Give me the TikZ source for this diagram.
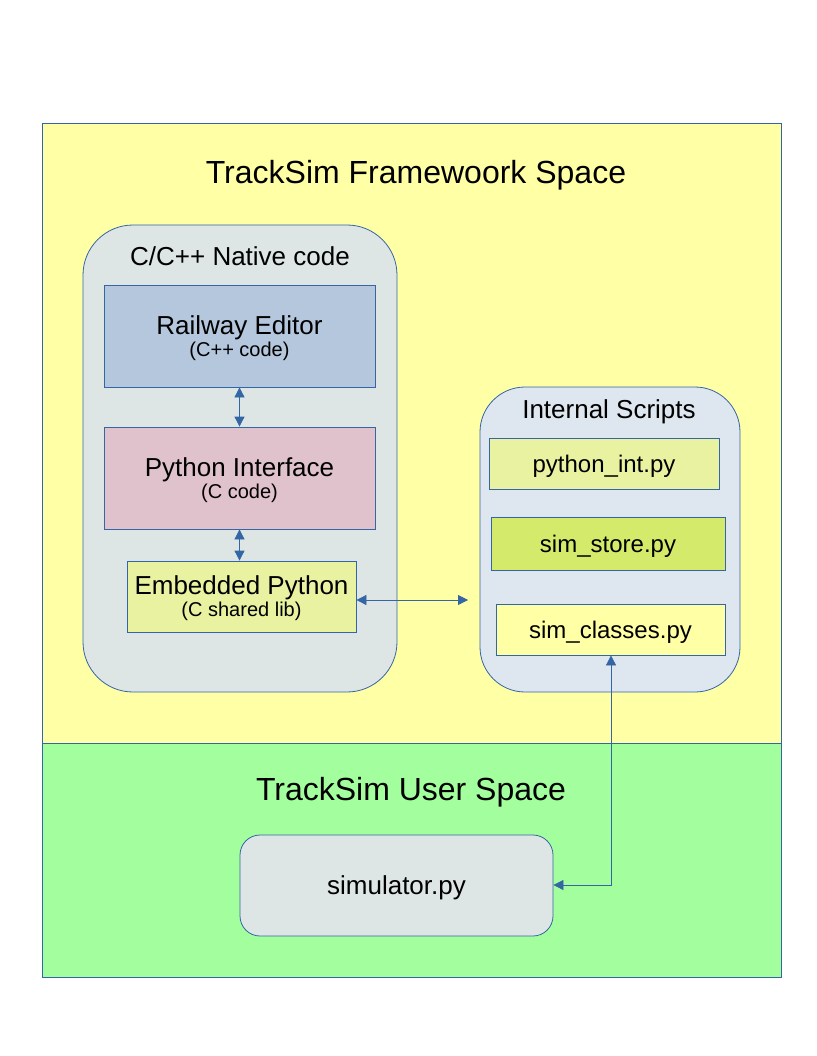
\documentclass[tikz,border=0pt]{standalone}
\usepackage{fontspec}
\setmainfont{Liberation Sans}
\usetikzlibrary{arrows.meta}
\definecolor{lineblue}{HTML}{3465A4}
\definecolor{fwyellow}{HTML}{FFFFA6}
\definecolor{usergreen}{HTML}{A3FF9E}
\definecolor{nativegray}{HTML}{DEE6E5}
\definecolor{scriptblue}{HTML}{DEE6EF}
\definecolor{railblue}{HTML}{B4C7DC}
\definecolor{ifpink}{HTML}{E0C2CD}
\definecolor{embyellow}{HTML}{E8F2A1}
\definecolor{storegreen}{HTML}{D4EA6B}
\newcommand{\bigtxt}{\fontsize{32}{36}\selectfont}
\newcommand{\midtxt}{\fontsize{26}{28}\selectfont}
\newcommand{\filetxt}{\fontsize{24}{26}\selectfont}
\newcommand{\smalltxt}{\fontsize{20}{22}\selectfont}
\tikzset{
  region/.style={draw=lineblue, line width=0.8pt, inner sep=0pt, anchor=center},
  block/.style={draw=lineblue, line width=0.8pt, inner sep=0pt, anchor=center, align=center, text=black},
  fileblock/.style={block, text depth=0pt},
  title/.style={inner sep=0pt, anchor=center, text=black},
  link/.style={draw=lineblue, line width=0.8pt, {Triangle[length=10pt,width=10pt,fill=lineblue]}-{Triangle[length=10pt,width=10pt,fill=lineblue]}},
}
\begin{document}
\begin{tikzpicture}[x=1pt,y=-1pt]
\useasboundingbox[fill=white] (0,0) rectangle (816,1056);
% spaces
\node[region, fill=fwyellow, minimum width=739pt, minimum height=620pt] (fw) at (411.5,433) {};
\node[region, fill=usergreen, minimum width=739pt, minimum height=234pt] (us) at (411.5,860) {};
\node[title] (fwtitle) at (416,175) {\bigtxt TrackSim Framewoork Space};
\node[title] (ustitle) at (411,792) {\bigtxt TrackSim User Space};
% native code
\node[region, fill=nativegray, rounded corners=50pt, minimum width=314pt, minimum height=467pt] (native) at (240,458.5) {};
\node[title] (nativetitle) at (240,256) {\midtxt C/C++ Native code};
\node[fileblock, fill=railblue, minimum width=271pt, minimum height=102pt] (rail) at (239.5,336)
  {\midtxt Railway Editor\\[1pt]\smalltxt (C++ code)};
\node[fileblock, fill=ifpink, minimum width=271pt, minimum height=102pt] (pyif) at (239.5,478)
  {\midtxt Python Interface\\[1pt]\smalltxt (C code)};
\node[fileblock, fill=embyellow, minimum width=229pt, minimum height=71pt] (emb) at (241.5,596.5)
  {\midtxt Embedded Python\\[1pt]\smalltxt (C shared lib)};
% internal scripts
\node[region, fill=scriptblue, rounded corners=45pt, minimum width=260pt, minimum height=305pt] (scripts) at (610,539.5) {};
\node[title] (scriptstitle) at (609,412) {\midtxt Internal Scripts};
\node[fileblock, fill=embyellow, minimum width=230pt, minimum height=51pt] (pyint) at (604,463.5) {\filetxt python\_int.py};
\node[fileblock, fill=storegreen, minimum width=234pt, minimum height=53pt] (store) at (608,543.5) {\filetxt sim\_store.py};
\node[fileblock, fill=fwyellow, minimum width=229pt, minimum height=51pt] (classes) at (610.5,629.5) {\filetxt sim\_classes.py};
% user space
\node[fileblock, fill=nativegray, rounded corners=20pt, minimum width=313pt, minimum height=101pt] (sim) at (396.5,885.5) {\midtxt simulator.py};
% connectors
\coordinate (embend) at (468,600);
\coordinate (corner) at (611,885);
\draw[link] (rail.south) -- (pyif.north);
\draw[link] (pyif.south) -- (emb.north -| pyif.south);
\draw[link] (emb.east |- embend) -- (embend);
\draw[link] (corner |- classes.south) -- (corner) -- (sim.east |- corner);
\end{tikzpicture}
\end{document}
